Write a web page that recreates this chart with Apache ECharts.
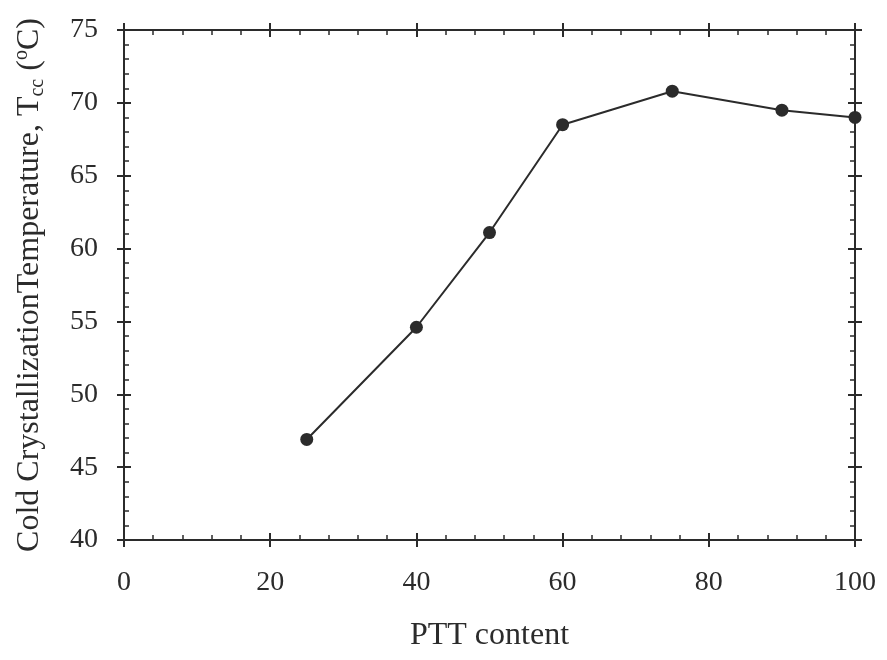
<!DOCTYPE html>
<html>
<head>
<meta charset="utf-8">
<script src="https://cdn.jsdelivr.net/npm/echarts@6/dist/echarts.min.js"></script>
<style>html,body{margin:0;padding:0;background:#fff}#c{width:887px;height:660px}</style>
</head>
<body>
<div id="c"></div>
<script>
var pttContent = [25, 40, 50, 60, 75, 90, 100];
var coldCrystTemp = [46.9, 54.6, 61.1, 68.5, 70.8, 69.5, 69.0];
var xTicks = [0, 20, 40, 60, 80, 100];
var yTicks = [40, 45, 50, 55, 60, 65, 70, 75];

var FONT = 'Liberation Serif';
var INK = '#2b2b2b';
var chart = echarts.init(document.getElementById('c'));

function axisBase(extra) {
  var a = {
    type: 'value',
    axisLine: { show: true, onZero: false, lineStyle: { color: INK, width: 2 } },
    splitLine: { show: false },
    axisLabel: { show: false },
    minorSplitLine: { show: false }
  };
  for (var k in extra) a[k] = extra[k];
  return a;
}
var xRange = { min: xTicks[0], max: xTicks[xTicks.length - 1], interval: xTicks[1] - xTicks[0] };
var yRange = { min: yTicks[0], max: yTicks[yTicks.length - 1], interval: yTicks[1] - yTicks[0] };
function merge(a, b) { var o = {}; for (var k in a) o[k] = a[k]; for (var j in b) o[j] = b[j]; return o; }

var insideTick = { show: true, inside: true, length: 7, lineStyle: { color: INK, width: 2 } };
var outsideTick = { show: true, inside: false, length: 7, lineStyle: { color: INK, width: 2 } };
var minorIn = { show: true, splitNumber: 5, length: 5, lineStyle: { color: INK, width: 1.5 } };

var option = {
  backgroundColor: '#ffffff',
  animation: false,
  grid: { left: 124, right: 32, top: 30, bottom: 120, containLabel: false },
  xAxis: [
    axisBase(merge(xRange, {
      position: 'bottom',
      axisTick: insideTick, minorTick: minorIn,
      axisLabel: { show: true, fontFamily: FONT, fontSize: 28, color: INK, margin: 29 },
      name: 'PTT content', nameLocation: 'middle', nameGap: 80,
      nameTextStyle: { fontFamily: FONT, fontSize: 32, color: INK }
    })),
    axisBase(merge(xRange, { position: 'bottom', axisTick: outsideTick })),
    axisBase(merge(xRange, { position: 'top', axisTick: insideTick, minorTick: minorIn })),
    axisBase(merge(xRange, { position: 'top', axisTick: outsideTick }))
  ],
  yAxis: [
    axisBase(merge(yRange, {
      position: 'left',
      axisTick: insideTick, minorTick: minorIn,
      axisLabel: { show: true, fontFamily: FONT, fontSize: 28, color: INK, margin: 26 },
      name: 'Cold CrystallizationTemperature, T{sub|cc} ({sup|o}C)',
      nameLocation: 'middle', nameGap: 76,
      nameTextStyle: {
        fontFamily: FONT, fontSize: 32, color: INK, lineHeight: 36,
        rich: {
          sub: { fontFamily: FONT, fontSize: 20, color: INK, verticalAlign: 'bottom', lineHeight: 36 },
          sup: { fontFamily: FONT, fontSize: 20, color: INK, verticalAlign: 'top', lineHeight: 36 }
        }
      }
    })),
    axisBase(merge(yRange, { position: 'left', axisTick: outsideTick })),
    axisBase(merge(yRange, { position: 'right', axisTick: insideTick, minorTick: minorIn })),
    axisBase(merge(yRange, { position: 'right', axisTick: outsideTick }))
  ],
  series: [{
    type: 'line',
    xAxisIndex: 0, yAxisIndex: 0,
    data: pttContent.map(function (x, i) { return [x, coldCrystTemp[i]]; }),
    symbol: 'circle', symbolSize: 13,
    lineStyle: { color: INK, width: 2 },
    itemStyle: { color: INK },
    z: 5
  }]
};
chart.setOption(option);
</script>
</body>
</html>
